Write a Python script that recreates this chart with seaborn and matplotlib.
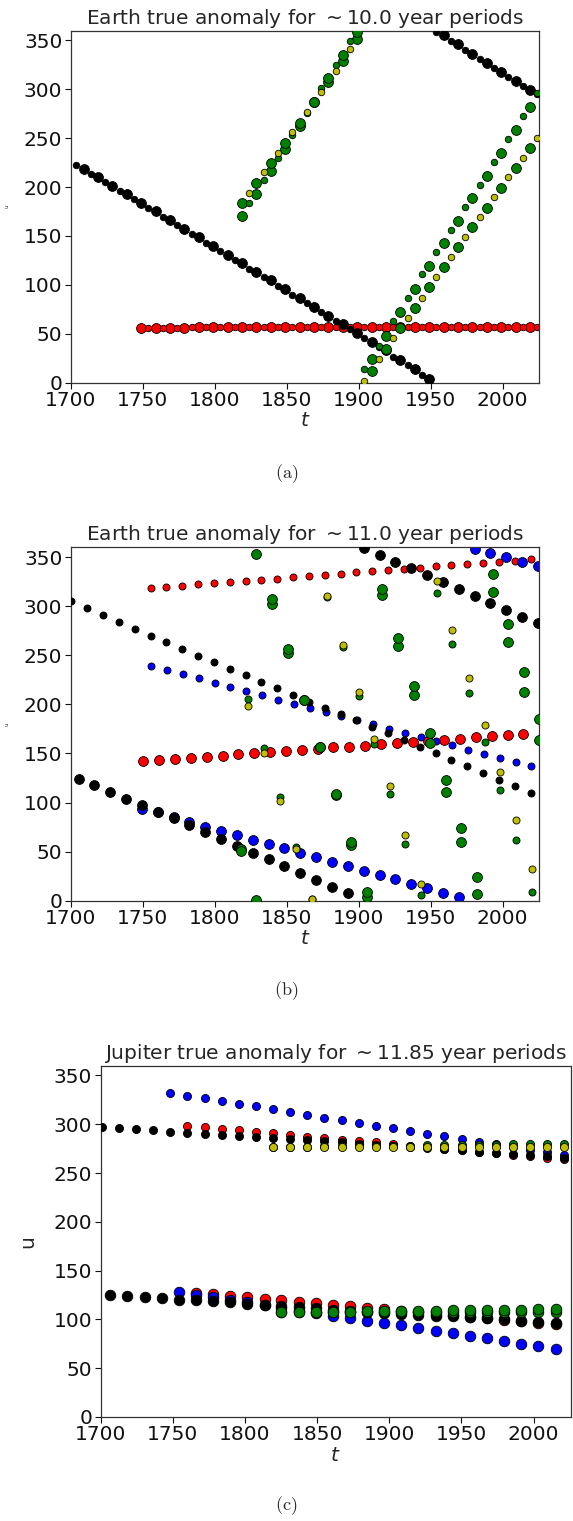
import numpy as np
import pandas as pd
import matplotlib
matplotlib.use("Agg")
import matplotlib.pyplot as plt
import seaborn as sns

sns.set_style("ticks")
plt.rcParams.update({"font.family": ["DejaVu Sans"], "font.size": 14.5,
                     "axes.edgecolor": "#333333", "axes.linewidth": 0.9})

RED, GREEN, YEL, BLUE, BLK = "#ff0000", "#008000", "#bfbf00", "#0000ff", "#000000"

# ---------------- panel (a): Earth, ~10.0 yr ----------------
a_black_big_t = [1709, 1719, 1729, 1739, 1749, 1759, 1769, 1779, 1789, 1799, 1809, 1819, 1829, 1839, 1849, 1859,
                 1869, 1879, 1889, 1899, 1909, 1919, 1929, 1939, 1949, 1959, 1969, 1979, 1989, 1999, 2009, 2019]
a_black_big_v = [218.8, 210.0, 201.5, 192.6, 183.7, 175.2, 166.3, 157.5, 148.7, 139.9, 131.0, 122.2, 113.4, 104.6,
                 95.7, 86.9, 77.7, 68.5, 60.0, 50.5, 41.3, 33.4, 23.2, 14.0, 3.8, 355.5, 346.0, 336.0, 326.6,
                 317.4, 308.5, 299.3]
a_black_small_t = [1704, 1714, 1724, 1734, 1744, 1754, 1764, 1774, 1784, 1794, 1804, 1814, 1824, 1834, 1844, 1854,
                   1864, 1874, 1884, 1894, 1904, 1914, 1924, 1934, 1944, 1954, 1964, 1974, 1984, 1994, 2004, 2014,
                   2024]
a_black_small_v = [222.6, 213.7, 204.9, 196.3, 187.5, 178.6, 169.8, 160.9, 152.1, 143.2, 134.4, 125.5, 116.7, 107.8,
                   99.0, 90.1, 81.3, 72.6, 63.1, 54.6, 45.4, 36.8, 26.6, 18.1, 7.9, 359.0, 349.7, 340.2, 330.7,
                   321.5, 312.3, 303.4, 294.9]
a_red_big_t = [1749, 1759, 1769, 1779, 1789, 1799, 1809, 1819, 1829, 1839, 1849, 1859, 1869, 1879, 1889, 1899,
               1909, 1919, 1929, 1939, 1949, 1959, 1969, 1979, 1989, 1999, 2009, 2019]
a_red_big_v = [56.3, 56.4, 56.4, 56.4, 56.5, 56.5, 56.5, 56.5, 56.5, 56.6, 56.6, 56.6, 56.6, 56.6, 56.7, 56.7,
               56.7, 56.7, 56.7, 56.8, 56.8, 56.8, 56.8, 56.8, 56.9, 56.9, 56.9, 56.9]
a_red_small_t = [1754, 1764, 1774, 1784, 1794, 1804, 1814, 1824, 1834, 1844, 1854, 1864, 1874, 1884, 1894, 1904,
                 1914, 1924, 1934, 1944, 1954, 1964, 1974, 1984, 1994, 2004, 2014, 2024]
a_red_small_v = [56.4, 56.4, 56.4, 56.5, 56.5, 56.5, 56.5, 56.5, 56.6, 56.6, 56.6, 56.6, 56.6, 56.7, 56.7, 56.7,
                 56.7, 56.7, 56.8, 56.8, 56.8, 56.8, 56.8, 56.9, 56.9, 56.9, 56.9, 56.9]
a_green_big_t = [1819, 1829, 1839, 1849, 1859, 1869, 1879, 1889, 1899, 1909, 1919, 1929, 1939, 1949, 1959, 1969,
                 1979, 1989, 1999, 2009, 2019]
a_green_big_v1 = [170.0, 193.0, 216.0, 239.0, 262.5, 286.7, 307.8, 329.0, 351.0, 12.3, 34.0, 55.6, 76.0, 97.5,
                  118.0, 138.4, 159.5, 179.0, 199.4, 219.5, 240.0]
a_green_big_v2 = [184.0, 204.0, 224.6, 245.0, 266.0, 287.5, 311.2, 335.0, 359.0, 24.0, 47.7, 72.6, 95.8, 119.6,
                  142.5, 165.6, 188.5, 211.7, 234.6, 258.0, 282.0]
a_small_t = [1824, 1834, 1844, 1854, 1864, 1874, 1884, 1894, 1904, 1914, 1924, 1934, 1944, 1954, 1964, 1974, 1984,
             1994, 2004, 2014, 2024]
a_green_small_v = [184.0, 207.0, 230.0, 253.0, 276.0, 301.0, 325.0, 349.7, 14.0, 37.5, 63.0, 87.0, 110.8, 133.3,
                   156.4, 179.3, 202.5, 225.7, 248.9, 273.0, 296.0]
a_yellow_small_v = [194.0, 215.0, 235.0, 256.0, 276.5, 297.5, 319.0, 341.0, 2.0, 24.0, 45.4, 66.5, 87.0, 108.4,
                    128.8, 149.3, 169.4, 189.6, 210.0, 230.0, 250.5]

# ---------------- panel (b): Earth, ~11.0 yr ----------------
b_black_small_t = [1700.5, 1711.5, 1722.5, 1733.5, 1744.5, 1755.5, 1766.5, 1777.5, 1788.5, 1799.5, 1810.5, 1821.5,
                   1832.5, 1843.5, 1854.5, 1865.5, 1876.5, 1887.5, 1898.5, 1909.5, 1920.5, 1931.5, 1942.5, 1953.5,
                   1964.5, 1975.5, 1986.5, 1997.5, 2008.5, 2019.5]
b_black_small_v = [305.0, 297.7, 290.6, 283.8, 277.0, 269.9, 263.1, 256.3, 249.5, 242.7, 236.3, 229.5, 222.7, 216.3,
                   209.5, 202.6, 196.5, 189.8, 183.7, 176.6, 170.5, 163.3, 156.8, 150.4, 143.6, 136.9, 130.0, 123.2,
                   116.5, 110.0]
b_black_big_t = [1705.5, 1716.5, 1727.5, 1738.5, 1749.5, 1760.5, 1771.5, 1782.5, 1793.5, 1804.5, 1815.5, 1826.5,
                 1837.5, 1848.5, 1859.5, 1870.5, 1881.5, 1892.5, 1903.5, 1914.5, 1925.5, 1936.5, 1947.5, 1958.5,
                 1969.5, 1980.5, 1991.5, 2002.5, 2013.5, 2024.5]
b_black_big_v = [124.2, 117.5, 110.7, 103.9, 97.1, 90.6, 83.9, 76.8, 69.7, 62.8, 56.0, 48.9, 42.2, 35.0, 28.2, 21.1,
                 13.6, 7.5, 359.1, 352.4, 345.3, 338.5, 331.7, 324.6, 317.1, 310.3, 303.5, 296.3, 289.2, 282.5]
b_red_small_t = [1755.5, 1766.5, 1777.5, 1788.5, 1799.5, 1810.5, 1821.5, 1832.5, 1843.5, 1854.5, 1865.5, 1876.5,
                 1887.5, 1898.5, 1909.5, 1920.5, 1931.5, 1942.5, 1953.5, 1964.5, 1975.5, 1986.5, 1997.5, 2008.5,
                 2019.5]
b_red_small_v = [318.0, 319.4, 320.8, 322.2, 323.2, 324.5, 325.6, 326.9, 327.9, 329.3, 330.7, 331.7, 333.0, 334.4,
                 335.4, 336.8, 337.8, 339.1, 340.5, 341.5, 342.9, 343.9, 345.3, 346.3, 347.7]
b_red_big_t = [1750.5, 1761.5, 1772.5, 1783.5, 1794.5, 1805.5, 1816.5, 1827.5, 1838.5, 1849.5, 1860.5, 1871.5,
               1882.5, 1893.5, 1904.5, 1915.5, 1926.5, 1937.5, 1948.5, 1959.5, 1970.5, 1981.5, 1992.5, 2003.5,
               2014.5]
b_red_big_v = [142.3, 143.3, 144.6, 145.6, 146.6, 147.7, 149.1, 150.1, 151.1, 152.4, 153.6, 154.5, 156.2, 156.8,
               157.9, 159.6, 160.6, 161.6, 163.0, 164.0, 165.0, 166.4, 167.4, 169.0, 169.8]
b_blue_small_t = [1756, 1767, 1778, 1789, 1800, 1811, 1822, 1833, 1844, 1855, 1866, 1877, 1888, 1899, 1910, 1921,
                  1932, 1943, 1954, 1965, 1976, 1987, 1998, 2009, 2020]
b_blue_small_v = [239.3, 234.9, 230.5, 226.5, 222.0, 217.6, 213.6, 209.2, 204.7, 200.6, 196.5, 192.2, 187.8, 183.8,
                  179.9, 175.2, 171.1, 166.7, 162.6, 158.2, 153.8, 149.7, 145.3, 141.2, 136.9]
b_blue_big_t = [1749.5, 1760.5, 1771.5, 1782.5, 1793.5, 1804.5, 1815.5, 1826.5, 1837.5, 1848.5, 1859.5, 1870.5,
                1881.5, 1892.5, 1903.5, 1914.5, 1925.5, 1936.5, 1947.5, 1958.5, 1969.5, 1980.5, 1991.5, 2002.5,
                2013.5, 2024.5]
b_blue_big_v = [93.1, 90.0, 85.3, 80.5, 75.4, 71.3, 66.6, 62.1, 57.7, 53.3, 48.9, 44.2, 39.4, 35.3, 30.2, 26.2,
                21.8, 17.0, 12.6, 8.1, 3.5, 358.1, 353.8, 349.7, 344.9, 340.5]
b_green_big_t = [1818, 1829, 1840, 1851, 1862, 1873, 1884, 1895, 1906, 1916.5, 1927.5, 1938.5, 1949.5, 1960.5,
                 1971, 1982, 1993, 2004, 2015, 2025.5]
b_green_big_v1 = [52.3, 0.7, 302.1, 252.5, 204.4, 156.2, 108.0, 56.7, 3.5, 311.0, 259.4, 209.5, 160.3, 110.4,
                  59.5, 6.8, 314.4, 263.1, 212.8, 163.3]
b_green_big_v2 = [50.5, 353.0, 307.2, 256.6, 204.8, 156.6, 108.7, 59.5, 8.6, 317.1, 267.5, 218.9, 171.1, 123.2,
                  74.3, 23.8, 332.4, 282.0, 233.2, 185.0]
b_small_t = [1823.5, 1834.5, 1845.5, 1856.5, 1867.5, 1878, 1889, 1900, 1911, 1921.5, 1932.5, 1943.5, 1954.5, 1965,
             1976.5, 1987.5, 1998.5, 2009.5, 2020.5]
b_green_small_v = [205.1, 155.5, 105.9, 55.0, 1.5, 309.0, 258.0, 208.8, 159.3, 108.7, 58.0, 5.8, 313.0, 261.4,
                   211.5, 162.0, 112.7, 61.8, 9.2]
b_yellow_small_v = [198.3, 150.1, 101.5, 52.3, 1.7, 310.3, 260.4, 212.2, 164.4, 116.5, 67.2, 16.7, 325.2, 275.3,
                    226.8, 179.0, 131.1, 82.2, 32.0]

# ---------------- panel (c): Jupiter, ~11.85 yr ----------------
c_top_t = [1701.3, 1712.7, 1724.4, 1736.4, 1748.3, 1760.2, 1772.2, 1784.1, 1795.8, 1807.8, 1819.5, 1831.4, 1843.1,
           1855.1, 1867.0, 1878.9, 1890.6, 1902.6, 1914.5, 1926.2, 1938.2, 1950.1, 1961.8, 1973.8, 1985.5, 1997.4,
           2009.4, 2021.3]
c_black_top_v = [296.7, 296.0, 294.7, 293.6, 292.3, 291.2, 290.2, 289.2, 287.8, 286.8, 285.7, 284.7, 283.7, 282.6,
                 281.3, 280.2, 279.2, 277.8, 276.8, 275.8, 274.4, 273.4, 272.0, 271.0, 269.6, 268.2, 267.2, 265.8]
c_blue_top_v = [332.1, 329.4, 326.6, 323.9, 321.1, 318.4, 315.3, 312.2, 309.5, 306.7, 304.0, 301.2, 298.5, 295.7,
                293.0, 290.2, 287.5, 284.7, 282.0, 279.4, 276.7, 274.0, 271.5, 268.5]          # from 1748
c_red_top_v = [298.5, 297.1, 295.4, 294.0, 292.3, 290.9, 289.2, 287.1, 285.7, 284.0, 282.6, 281.3, 279.6, 278.1,
               276.6, 275.1, 273.5, 272.0, 270.4, 268.9, 267.4, 265.8, 264.2]                 # from 1760
c_green_top_v = [276.6, 276.8, 277.0, 277.2, 277.4, 277.6, 277.8, 278.0, 278.2, 278.4, 278.6, 278.8, 279.0, 279.2,
                 279.4, 279.6, 279.8, 280.0]                                                  # from 1819
c_yellow_top_v = [277.1, 277.0, 277.0, 277.0, 276.9, 276.9, 276.9, 276.8, 276.8, 276.8, 276.8, 276.7, 276.7,
                  276.7, 276.7, 276.6, 276.6, 276.6]                                          # from 1819
c_low_t = [1706.6, 1718.6, 1730.5, 1742.5, 1754.4, 1766.3, 1778.0, 1790.0, 1801.7, 1813.6, 1825.3, 1837.3, 1849.2,
           1860.9, 1872.9, 1884.5, 1896.5, 1908.4, 1920.1, 1932.1, 1944.0, 1955.7, 1967.7, 1979.6, 1991.3, 2003.3,
           2015.2]
c_black_low_v = [125.0, 124.0, 123.0, 122.0, 120.3, 119.6, 118.9, 117.5, 116.2, 114.5, 113.5, 112.4, 111.4, 109.7,
                 108.7, 107.3, 106.3, 105.3, 104.6, 103.9, 103.2, 102.2, 101.2, 100.2, 98.8, 97.8, 96.4]
c_blue_low_v = [127.8, 125.3, 122.7, 120.0, 117.4, 114.8, 112.1, 109.4, 106.6, 103.9, 101.5, 98.8, 96.4, 94.0, 91.3,
                88.5, 86.0, 83.1, 80.7, 78.0, 75.3, 72.9, 69.8]                               # from 1754
c_red_low_v = [127.1, 125.6, 124.1, 122.6, 121.0, 119.5, 118.0, 116.5, 115.0, 113.5, 112.0, 110.5, 108.9, 107.4,
               105.9, 104.4, 102.9, 101.4, 99.9, 98.3, 96.8, 95.3]                            # from 1766
c_green_low_v = [107.3, 107.7, 107.7, 108.0, 108.0, 108.3, 108.7, 108.7, 109.0, 109.0, 109.4, 109.4, 109.7, 109.7,
                 110.0, 110.4, 110.7]                                                         # from 1825
c_green2_low_v = [107.3, 107.3, 107.3, 107.3, 107.3, 107.3, 107.3, 107.3, 107.3, 107.3, 107.3, 107.3, 107.3, 107.3,
                  107.3, 107.3, 107.3]

W, H = 573, 1521
fig = plt.figure(figsize=(W / 100, H / 100), dpi=100)


def px_axes(left, top, right, bottom):
    return fig.add_axes([left / W, 1 - bottom / H, (right - left) / W, (bottom - top) / H])


def dots(ax, t, v, color, s, z):
    sns.scatterplot(x=t, y=v, ax=ax, color=color, s=s, edgecolor="black", linewidth=0.6,
                    legend=False, zorder=z, clip_on=True)


def style(ax, title, ylab_size, ylab_x):
    ax.set_xlim(1700, 2025.5)
    ax.set_ylim(0, 360)
    ax.set_xticks([1700, 1750, 1800, 1850, 1900, 1950, 2000])
    ax.set_yticks([0, 50, 100, 150, 200, 250, 300, 350])
    ax.tick_params(labelsize=14.5, length=4, width=0.8, pad=2, colors="#111111")
    ax.set_title(title, fontsize=14.5, pad=5)
    ax.set_xlabel("$t$", fontsize=14.5, labelpad=1)
    ax.set_ylabel("u", fontsize=ylab_size)
    ax.yaxis.set_label_coords(ylab_x, 0.5)


BIG, SMALL = 50, 22

ax = px_axes(70.7, 30.6, 539.3, 382.7)
dots(ax, a_red_big_t, a_red_big_v, RED, BIG, 2)
dots(ax, a_red_small_t, a_red_small_v, RED, SMALL, 2)
dots(ax, a_black_big_t, a_black_big_v, BLK, BIG, 3)
dots(ax, a_black_small_t, a_black_small_v, BLK, SMALL, 3)
dots(ax, a_green_big_t, a_green_big_v1, GREEN, BIG, 4)
dots(ax, a_green_big_t, a_green_big_v2, GREEN, BIG, 4)
dots(ax, a_small_t, a_green_small_v, GREEN, SMALL, 4)
dots(ax, a_small_t, a_yellow_small_v, YEL, SMALL, 5)
style(ax, "Earth true anomaly for $\\sim$10.0 year periods", 4, -0.13)

ax = px_axes(70.7, 547.2, 539.3, 900.7)
dots(ax, b_red_big_t, b_red_big_v, RED, BIG, 2)
dots(ax, b_red_small_t, b_red_small_v, RED, SMALL + 4, 2)
dots(ax, b_blue_big_t, b_blue_big_v, BLUE, BIG, 2.5)
dots(ax, b_blue_small_t, b_blue_small_v, BLUE, SMALL + 4, 2.5)
dots(ax, b_black_big_t, b_black_big_v, BLK, BIG, 3)
dots(ax, b_black_small_t, b_black_small_v, BLK, SMALL + 4, 3)
dots(ax, b_green_big_t, b_green_big_v1, GREEN, BIG, 4)
dots(ax, b_green_big_t, b_green_big_v2, GREEN, BIG, 4)
dots(ax, b_small_t, b_green_small_v, GREEN, SMALL + 4, 4)
dots(ax, b_small_t, b_yellow_small_v, YEL, SMALL + 4, 5)
style(ax, "Earth true anomaly for $\\sim$11.0 year periods", 4, -0.13)

ax = px_axes(100.5, 1065.7, 570.5, 1417.0)
C_TOP, C_LOW = 34, 58
dots(ax, c_top_t[5:], c_red_top_v, RED, C_TOP, 2)
dots(ax, c_top_t[4:], c_blue_top_v, BLUE, C_TOP, 2.5)
dots(ax, c_top_t, c_black_top_v, BLK, C_TOP, 3)
dots(ax, c_top_t[10:], c_green_top_v, GREEN, C_TOP, 4)
dots(ax, c_top_t[10:], c_yellow_top_v, YEL, C_TOP, 5)
dots(ax, c_low_t[5:], c_red_low_v, RED, C_LOW, 2)
dots(ax, c_low_t[4:], c_blue_low_v, BLUE, C_LOW, 2.5)
dots(ax, c_low_t, c_black_low_v, BLK, C_LOW, 3)
dots(ax, c_low_t[10:], c_green2_low_v, GREEN, C_LOW, 4)
dots(ax, c_low_t[10:], c_green_low_v, GREEN, C_LOW, 4)
style(ax, "Jupiter true anomaly for $\\sim$11.85 year periods", 14.5, -0.135)

for lab, ypx in [("(a)", 474), ("(b)", 991), ("(c)", 1506)]:
    fig.text(0.5, 1 - ypx / H, "$\\mathrm{" + lab + "}$", ha="center", va="center",
             fontsize=13, math_fontfamily="cm")

fig.savefig("out.png", dpi=100)
